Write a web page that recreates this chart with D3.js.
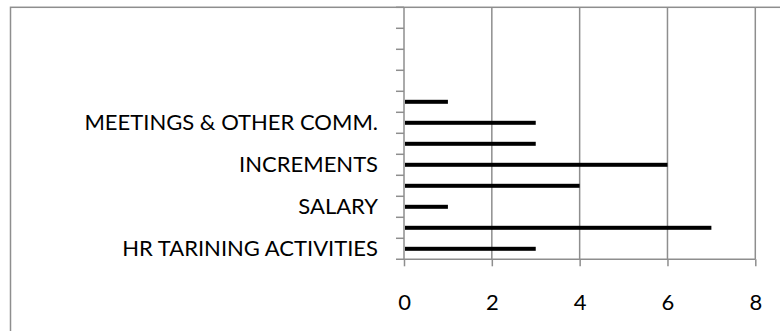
<!DOCTYPE html>
<html>
<head>
<meta charset="utf-8">
<script src="https://cdn.jsdelivr.net/npm/d3@7"></script>
<style>
  html, body { margin: 0; padding: 0; background: #fff; }
  svg { display: block; }
  text { font-family: Lato, "Open Sans", sans-serif; fill: #000; }
</style>
</head>
<body>
<svg id="chart" width="780" height="331"></svg>
<script>
// Category labels, bottom to top; unlabelled rows are blank.
const categories = [
  "HR TARINING ACTIVITIES", "", "SALARY", "", "INCREMENTS", "",
  "MEETINGS & OTHER COMM.", "", "", "", "", ""
];
// Count per category (null = no bar).
const values = [3, 7, 1, 4, 6, 3, 3, 1, null, null, null, null];
// Value axis ticks.
const xTicks = [0, 2, 4, 6, 8];

const svg = d3.select("#chart");
const gridColor = "#8e8e8e";
const fontSize = "22px";

const plot = { left: 404, right: 755.3, top: 7.3, bottom: 259.3 };

const x = d3.scaleLinear().domain([0, 8]).range([plot.left, plot.right]);
const y = d3.scaleBand()
  .domain(d3.range(categories.length))
  .range([plot.bottom, plot.top])
  .padding(0);

// Outer chart frame (extends past the right and bottom edges)
svg.append("rect")
  .attr("x", 10.5).attr("y", plot.top)
  .attr("width", 900).attr("height", 500)
  .attr("fill", "none")
  .attr("stroke", gridColor)
  .attr("stroke-width", 1.5);

// Vertical gridlines
svg.append("g")
  .selectAll("line")
  .data(xTicks.filter(d => d > 0))
  .join("line")
  .attr("x1", d => x(d)).attr("x2", d => x(d))
  .attr("y1", plot.top).attr("y2", plot.bottom)
  .attr("stroke", gridColor).attr("stroke-width", 1.5);

// Bars
const barH = 4;
svg.append("g")
  .selectAll("rect")
  .data(values.map((v, i) => ({ i, v })).filter(d => d.v != null))
  .join("rect")
  .attr("x", x(0) + 1)
  .attr("y", d => y(d.i) + y.bandwidth() / 2 - barH / 2)
  .attr("width", d => x(d.v) - x(0) - 1)
  .attr("height", barH)
  .attr("fill", "#000");

// X axis
const xAxis = svg.append("g")
  .attr("transform", `translate(0,${plot.bottom})`)
  .call(d3.axisBottom(x).tickValues(xTicks).tickSize(7).tickPadding(28).tickSizeOuter(0));
xAxis.select(".domain").remove();
xAxis.selectAll(".tick line").attr("stroke", gridColor).attr("stroke-width", 1.5);
xAxis.selectAll("text").style("font-size", fontSize);
// Axis baseline, extended left by the category tick length
svg.append("line")
  .attr("x1", plot.left - 8).attr("x2", plot.right)
  .attr("y1", plot.bottom).attr("y2", plot.bottom)
  .attr("stroke", gridColor).attr("stroke-width", 1.5);

// Y axis: labels at category centres, ticks on category boundaries
const yAxis = svg.append("g")
  .attr("transform", `translate(${plot.left},0)`)
  .call(d3.axisLeft(y).tickSize(0).tickPadding(26).tickFormat(i => categories[i]));
yAxis.select(".domain").remove();
yAxis.selectAll("text").style("font-size", fontSize);

const bounds = d3.range(categories.length).map(i => y(i));
svg.append("g")
  .selectAll("line")
  .data(bounds)
  .join("line")
  .attr("x1", plot.left - 8).attr("x2", plot.left)
  .attr("y1", d => d).attr("y2", d => d)
  .attr("stroke", gridColor).attr("stroke-width", 1.5);

svg.append("line")
  .attr("x1", plot.left).attr("x2", plot.left)
  .attr("y1", plot.top).attr("y2", plot.bottom)
  .attr("stroke", gridColor).attr("stroke-width", 1.5);
</script>
</body>
</html>
